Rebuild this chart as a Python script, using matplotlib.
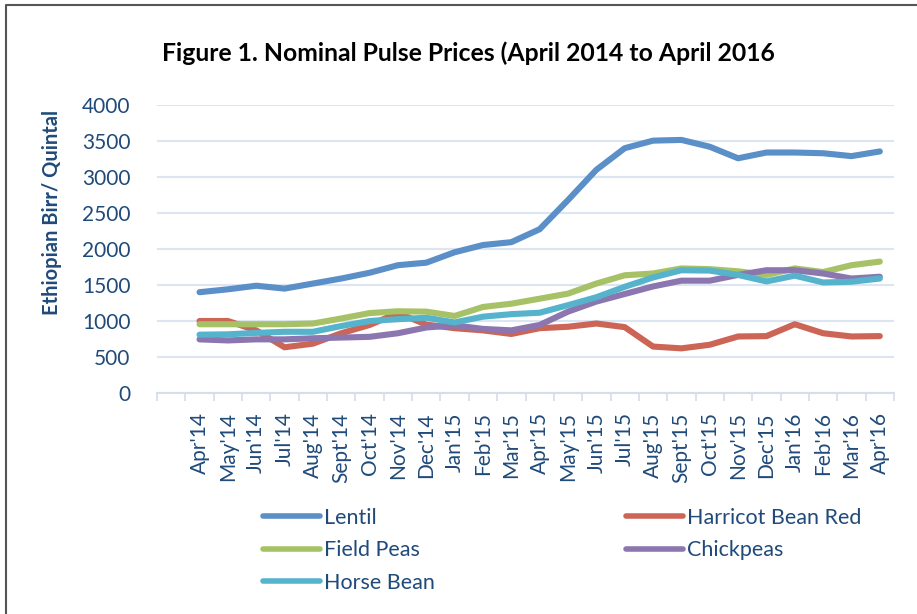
import numpy as np
import matplotlib
matplotlib.use("Agg")
import matplotlib.pyplot as plt
from matplotlib.lines import Line2D

months = ["Apr'14", "May'14", "Jun'14", "Jul'14", "Aug'14", "Sept'14", "Oct'14",
          "Nov'14", "Dec'14", "Jan'15", "Feb'15", "Mar'15", "Apr'15", "May'15",
          "Jun'15", "Jul'15", "Aug'15", "Sept'15", "Oct'15", "Nov'15", "Dec'15",
          "Jan'16", "Feb'16", "Mar'16", "Apr'16"]

lentil = [1400, 1440, 1490, 1450, 1520, 1590, 1670, 1775, 1810, 1955, 2055, 2095,
          2275, 2680, 3100, 3400, 3505, 3515, 3420, 3260, 3340, 3340, 3330, 3290, 3355]
harricot = [1000, 1000, 870, 635, 685, 830, 945, 1110, 950, 900, 870, 820,
            900, 920, 965, 915, 645, 620, 670, 785, 790, 955, 830, 785, 790]
field_peas = [955, 955, 955, 955, 965, 1035, 1110, 1135, 1130, 1070, 1195, 1240,
              1310, 1380, 1520, 1635, 1660, 1730, 1720, 1690, 1640, 1730, 1680, 1775, 1825]
chickpeas = [745, 730, 745, 745, 760, 770, 780, 830, 910, 940, 890, 870,
             945, 1130, 1270, 1375, 1480, 1560, 1560, 1640, 1705, 1705, 1660, 1590, 1615]
horse_bean = [810, 815, 835, 850, 850, 930, 1000, 1025, 1045, 980, 1060, 1095,
              1115, 1220, 1330, 1475, 1605, 1705, 1700, 1640, 1550, 1630, 1535, 1545, 1590]

series = [
    ("Lentil", lentil, "#5B8FC8"),
    ("Harricot Bean Red", harricot, "#CC6556"),
    ("Field Peas", field_peas, "#A7C266"),
    ("Chickpeas", chickpeas, "#8C76AF"),
    ("Horse Bean", horse_bean, "#56B3CC"),
]

navy = "#1F4A7A"
font = ["Lato", "DejaVu Sans"]
plt.rcParams['font.family'] = font

W, H = 917, 614
fig = plt.figure(figsize=(W / 100, H / 100), dpi=100)
ax = fig.add_axes([157 / W, 1 - 393 / H, (894 - 157) / W, (393 - 105) / H])

x = np.arange(len(months)) + 1.5
lines = {}
for name, vals, col in series:
    ln, = ax.plot(x, vals, color=col, lw=4.4, solid_capstyle="round",
                  solid_joinstyle="round", label=name, zorder=3)
    lines[name] = ln

ax.set_xlim(0, len(months) + 1)
ax.set_ylim(0, 4000)
ax.set_yticks(np.arange(0, 4001, 500))
ax.grid(axis="y", color="#DCE6F2", lw=1.5, zorder=0)
for s in ["top", "right", "left"]:
    ax.spines[s].set_visible(False)
ax.spines["bottom"].set_color("#D5DFEC")
ax.spines["bottom"].set_linewidth(1.5)

ax.set_xticks(x)
ax.set_xticklabels(months, rotation=90, color=navy, fontsize=15)
ax.tick_params(axis="x", length=0, pad=14)
ax.set_xticks(np.arange(0, len(months) + 2), minor=True)
ax.tick_params(axis="x", which="minor", length=6, width=1.3, color="#D5DFEC")
ax.tick_params(axis="y", length=0, pad=19, labelcolor=navy, labelsize=15)

fig.text(468 / W, 1 - 53 / H, "Figure 1. Nominal Pulse Prices (April 2014 to April 2016",
         ha="center", va="center", fontsize=17.8, fontweight="bold", color="black")
fig.text(52 / W, 1 - 212 / H, "Ethiopian Birr/ Quintal", rotation=90,
         ha="center", va="center", fontsize=14.5, fontweight="bold", color=navy)

left_names = ["Lentil", "Field Peas", "Horse Bean"]
right_names = ["Harricot Bean Red", "Chickpeas"]
kw = dict(frameon=False, fontsize=15.5, handlelength=2.65, handletextpad=0.18,
          labelspacing=0.57, borderpad=0, borderaxespad=0, labelcolor=navy)
leg1 = fig.legend([lines[n] for n in left_names], left_names,
                  loc="upper left", bbox_to_anchor=(263 / W, 1 - 508 / H), **kw)
leg2 = fig.legend([lines[n] for n in right_names], right_names,
                  loc="upper left", bbox_to_anchor=(626 / W, 1 - 508 / H), **kw)
for leg in (leg1, leg2):
    for h in leg.legend_handles:
        h.set_linewidth(4)

fig.add_artist(Line2D([6 / W, 6 / W, 1], [0, 1 - 5 / H, 1 - 5 / H],
                      transform=fig.transFigure, color="#555555", lw=1.5))

fig.savefig("out.png", dpi=100)
